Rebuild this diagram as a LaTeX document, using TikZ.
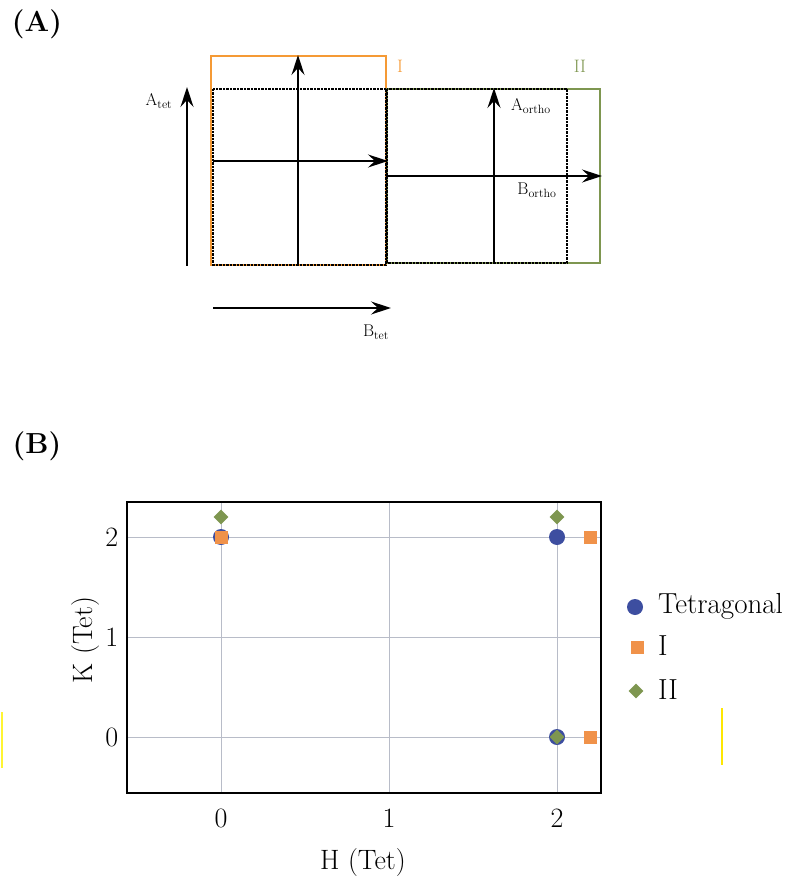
\documentclass[tikz,border=0pt]{standalone}
\usetikzlibrary{arrows.meta,shapes.geometric}
\definecolor{orI}{HTML}{F59A35}
\definecolor{grII}{HTML}{7E9650}
\definecolor{bluT}{HTML}{3D4EA0}
\definecolor{orM}{HTML}{F0924A}
\definecolor{gridc}{HTML}{B8BCC8}
\tikzset{
  arr/.style={line width=1.7pt,-{Stealth[length=20pt,width=13pt,inset=7pt]}},
  dotbox/.style={line width=2.5pt,densely dotted,black},
  orbox/.style={line width=2pt,draw=orI},
  grbox/.style={line width=2pt,draw=grII},
  lblA/.style={inner sep=0pt,font=\fontsize{17}{19}\selectfont},
  lblB/.style={inner sep=0pt,font=\fontsize{28}{32}\selectfont},
  panel/.style={inner sep=0pt,font=\fontsize{29}{32}\selectfont\bfseries},
  tcirc/.style={circle,fill=bluT,minimum size=16pt,inner sep=0pt},
  isq/.style={rectangle,fill=orM,minimum size=13pt,inner sep=0pt},
  iidia/.style={diamond,fill=grII,minimum size=15pt,inner sep=0pt},
}
\begin{document}
\begin{tikzpicture}[x=1pt,y=-1pt]
\useasboundingbox (0,0) rectangle (807,882);
% panel labels
\node[panel] (pA) at (37,24) {(A)};
\node[panel] (pB) at (37,446) {(B)};

% ---------- Panel A ----------
\draw[orbox] (211,265) -- (211,56) -- (386,56) -- (386,265) -- cycle;
\draw[grbox] (387,89) rectangle (600,263);
\draw[dotbox] (213,89) rectangle (386,265);
\draw[dotbox] (387,89) rectangle (567,263);
\node[inner sep=0pt,text=orI,font=\fontsize{18}{20}\selectfont] (lI) at (400,66) {I};
\node[inner sep=0pt,text=grII,font=\fontsize{18}{20}\selectfont] (lII) at (580,66) {II};

\coordinate (v1s) at (298,265); \coordinate (v1e) at (298,55);
\coordinate (h1s) at (213,161); \coordinate (h1e) at (388,161);
\coordinate (v2s) at (494,263); \coordinate (v2e) at (494,88);
\coordinate (h2s) at (387,176); \coordinate (h2e) at (602,176);
\coordinate (ats) at (187,266); \coordinate (ate) at (187,87);
\coordinate (bts) at (213,308); \coordinate (bte) at (391,308);
\draw[arr] (v1s) -- (v1e);
\draw[arr] (h1s) -- (h1e);
\draw[arr] (v2s) -- (v2e);
\draw[arr] (h2s) -- (h2e);
\draw[arr] (ats) -- (ate);
\draw[arr] (bts) -- (bte);
\node[lblA] (lat) at (159,101) {A$_{\mathrm{tet}}$};
\node[lblA] (lbt) at (376,332) {B$_{\mathrm{tet}}$};
\node[lblA] (lao) at (531,106) {A$_{\mathrm{ortho}}$};
\node[lblA] (lbo) at (537,190) {B$_{\mathrm{ortho}}$};

% ---------- Panel B ----------
\begin{scope}[shift={(221pt,-737pt)},x=168pt,y=100pt]
  % grid
  \foreach \h in {0,1,2} \draw[gridc,line width=0.9pt] (\h,-0.56) -- (\h,2.35);
  \foreach \k in {0,1,2} \draw[gridc,line width=0.9pt] (-0.56,\k) -- (2.26,\k);
  \draw[black,line width=1.8pt] (-0.56,-0.56) rectangle (2.26,2.35);
  % tick labels
  \node[lblB] (tx0) at (0,-0.81) {0};
  \node[lblB] (tx1) at (1,-0.81) {1};
  \node[lblB] (tx2) at (2,-0.81) {2};
  \node[lblB] (ty0) at (-0.65,0) {0};
  \node[lblB] (ty1) at (-0.65,1) {1};
  \node[lblB] (ty2) at (-0.65,2) {2};
  \node[lblB] (xlab) at (0.845,-1.26) {H (Tet)};
  \node[lblB,rotate=90] (ylab) at (-0.805,0.97) {K (Tet)};
  % data
  \node[tcirc] (t1) at (0,2) {};
  \node[tcirc] (t2) at (2,2) {};
  \node[tcirc] (t3) at (2,0) {};
  \node[isq] (i1) at (0,2) {};
  \node[isq] (i2) at (2.2,2) {};
  \node[isq] (i3) at (2.2,0) {};
  \node[iidia] (d1) at (0,2.2) {};
  \node[iidia] (d2) at (2,2.2) {};
  \node[iidia] (d3) at (2,0) {};
\end{scope}

% legend
\node[tcirc] (lgT) at (635,607) {};
\node[isq] (lgI) at (637,647) {};
\node[iidia] (lgII) at (636,691) {};
\node[lblB,anchor=west,font=\fontsize{29}{32}\selectfont] (txT) at (658,606) {Tetragonal};
\node[lblB,anchor=west,font=\fontsize{29}{32}\selectfont] (txI) at (658,646) {I};
\node[lblB,anchor=west,font=\fontsize{29}{32}\selectfont] (txII) at (658,690) {II};

% faint scan marks
\draw[yellow!80,line width=2pt] (1.5,712) -- (1.5,768);
\draw[yellow!90!orange,line width=2pt] (722,708) -- (722,765);
\end{tikzpicture}
\end{document}
